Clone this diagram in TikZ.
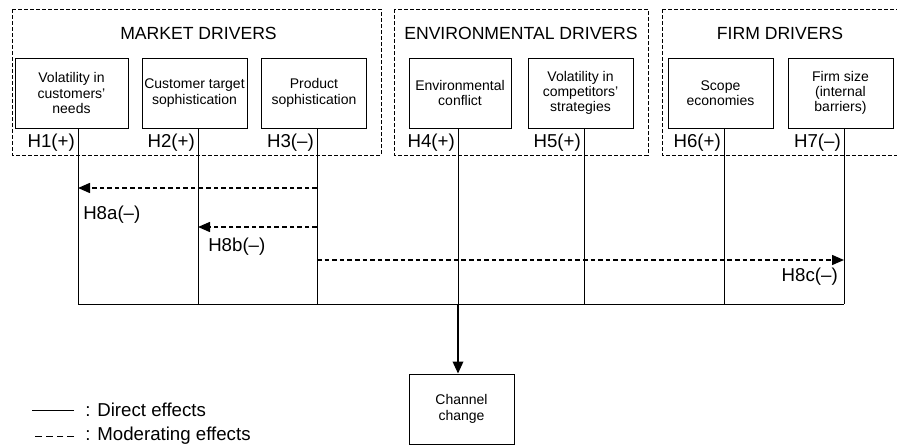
\documentclass[tikz,border=0pt]{standalone}
\usepackage{fontspec}
\setmainfont{Liberation Sans}
\usetikzlibrary{arrows.meta}

\begin{document}
\begin{tikzpicture}[x=0.75pt,y=0.75pt,yscale=-1,xscale=1,
  grp/.style={line width=0.75, dash pattern=on 3pt off 1.5pt},
  drv/.style={draw, line width=0.75, minimum width=78.75pt, minimum height=52.5pt, align=center, inner sep=0.75pt, font=\fontsize{10.5}{11.5}\selectfont},
  ttl/.style={inner sep=0.75pt, font=\fontsize{13.2}{15}\selectfont},
  hyp/.style={inner sep=0.75pt, font=\fontsize{14}{16}\selectfont},
  direct/.style={line width=0.75},
  moder/.style={line width=1.1, dash pattern=on 3.5pt off 2.2pt, -{Triangle[length=9pt,width=7.5pt]}}]
\useasboundingbox (0,0) rectangle (897,447);

%Shape: Rectangle [groups]
\draw [grp] (12,9) rectangle (381,155) ;
\draw [grp] (394,9) rectangle (648,155) ;
\draw [grp] (662,9) rectangle (905,155) ;

% Text Node
\draw (198.5,33) node (tmkt) [ttl] {MARKET DRIVERS};
% Text Node
\draw (521,33) node (tenv) [ttl] {ENVIRONMENTAL DRIVERS};
% Text Node
\draw (780,33) node (tfrm) [ttl] {FIRM DRIVERS};

%Shape: Rectangle [drivers]
\draw (71.5,93) node (d1) [drv, minimum width=84.75pt] {Volatility in\\customers'\\needs};
\draw (194.5,93) node (d2) [drv] {Customer target\\sophistication};
\draw (314,93) node (d3) [drv] {Product\\sophistication};
\draw (460,93) node (d4) [drv, minimum width=76.5pt] {Environmental\\conflict};
\draw (580.5,93) node (d5) [drv] {Volatility in\\competitors'\\strategies};
\draw (720.5,93) node (d6) [drv] {Scope\\economies};
\draw (840.5,93) node (d7) [drv] {Firm size\\(internal\\barriers)};

%Shape: Rectangle [outcome]
\draw (461.5,409) node (chg) [drv, minimum height=52.5pt] {Channel\\change};

% junctions on the bottom line
\coordinate (j1) at (78,304);
\coordinate (j2) at (198,304);
\coordinate (j3) at (317,304);
\coordinate (j4) at (458,304);
\coordinate (j5) at (584,304);
\coordinate (j6) at (724,304);
\coordinate (j7) at (844,304);

%Straight Lines [direct effects]
\foreach \i in {1,...,7}
  \draw [direct] (j\i |- d\i.south) -- (j\i) ;
\draw [direct] (j1) -- (j7) ;
\draw [line width=1.1, -{Triangle[length=9pt,width=8pt]}] (j4) -- (j4 |- chg.north) ;

% Text Node [hypotheses]
\draw (j1) ++(-2,-161) node (h1) [hyp, anchor=east] {H1(+)};
\draw (j2) ++(-2,-161) node (h2) [hyp, anchor=east] {H2(+)};
\draw (j3) ++(-2,-161) node (h3) [hyp, anchor=east] {H3(–)};
\draw (j4) ++(-2,-161) node (h4) [hyp, anchor=east] {H4(+)};
\draw (j5) ++(-2,-161) node (h5) [hyp, anchor=east] {H5(+)};
\draw (j6) ++(-2,-161) node (h6) [hyp, anchor=east] {H6(+)};
\draw (j7) ++(-2,-161) node (h7) [hyp, anchor=east] {H7(–)};

%Straight Lines [moderating effects]
\coordinate (m8a) at (317,188);
\coordinate (m8b) at (317,227);
\coordinate (m8c) at (317,260);
\draw [moder] (m8a) -- (j1 |- m8a) ;
\draw [moder] (m8b) -- (j2 |- m8b) ;
\draw [moder] (m8c) -- (j7 |- m8c) ;

% Text Node
\draw (82,215) node (h8a) [hyp, anchor=west] {H8a(–)};
% Text Node
\draw (207,247) node (h8b) [hyp, anchor=west] {H8b(–)};
% Text Node
\draw (839,277) node (h8c) [hyp, anchor=east] {H8c(–)};

% Legend
\draw (84,410) node (ldir) [hyp, anchor=west] {: Direct effects};
\draw (84,436) node (lmod) [hyp, anchor=west] {: Moderating effects};
\draw [direct] (ldir.west) ++(-10,0) -- ++(-42,0) ;
\draw [direct, dash pattern=on 5pt off 3pt] (lmod.west) ++(-10,0) -- ++(-42,0) ;

\end{tikzpicture}
\end{document}
